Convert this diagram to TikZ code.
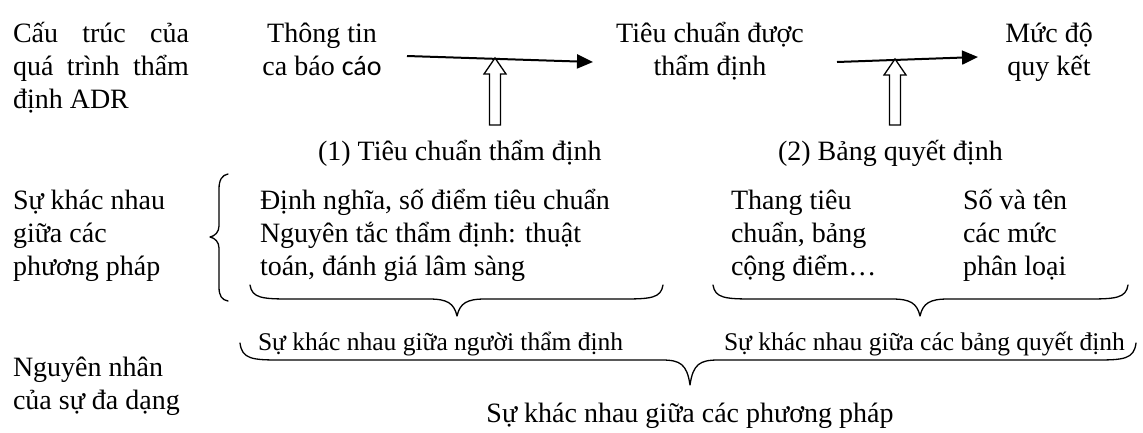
\documentclass[tikz,border=0pt]{standalone}
\usepackage{fontspec}
\setmainfont{Liberation Serif}
\newfontfamily\sansalt{Carlito}
\usetikzlibrary{arrows.meta}

\tikzset{
  txt/.style={font=\fontsize{28}{33}\selectfont, inner sep=0pt, outer sep=0pt},
  lt/.style={txt, anchor=base west},
  ct/.style={txt, anchor=base},
  smalltxt/.style={font=\fontsize{25.5}{30}\selectfont, inner sep=0pt, outer sep=0pt, anchor=base west},
  flow/.style={line width=2pt, -{Triangle[length=16pt,width=14pt]}},
  hollow/.style={draw, line width=1.3pt, fill=white, line join=miter},
  bracestyle/.style={line width=1.3pt, line cap=round, line join=round},
}

% horizontal brace opening upwards: left x, right x, tip x, end y, line y, tip y
\newcommand\downbrace[6]{%
  \draw[bracestyle] (#1,#4) .. controls (#1+2,#5-1) and (#1+12,#5) .. (#1+40,#5)
    -- (#3-28,#5) .. controls (#3-10,#5) and (#3-3,#5+4) .. (#3,#6)
    .. controls (#3+3,#5+4) and (#3+10,#5) .. (#3+28,#5)
    -- (#2-40,#5) .. controls (#2-12,#5) and (#2-2,#5-1) .. (#2,#4);}

% hollow upward arrow: centre x, tip y, bottom y
\newcommand\uparrowshape[3]{%
  \draw[hollow] (#1,#2) -- (#1+11,#2+16) -- (#1+5.5,#2+16) -- (#1+5.5,#3)
    -- (#1-5.5,#3) -- (#1-5.5,#2+16) -- (#1-11,#2+16) -- cycle;}

\begin{document}
\begin{tikzpicture}[x=1pt,y=-1pt]
\useasboundingbox (0,0) rectangle (1143,432);

% left column
\node[lt] (s1) at (13,42) {\makebox[176pt][s]{Cấu trúc của}};
\node[lt] (s2) at (13,75) {\makebox[176pt][s]{quá trình thẩm}};
\node[lt] (s3) at (13,108) {định ADR};
\node[lt] (d1) at (13,209) {Sự khác nhau};
\node[lt] (d2) at (13,242) {giữa các};
\node[lt] (d3) at (13,275) {phương pháp};
\node[lt] (n1) at (13,376) {Nguyên nhân};
\node[lt] (n2) at (13,409) {của sự đa dạng};

% process row
\node[ct] (info1) at (322,42) {Thông tin};
\node[ct] (info2) at (322,75) {ca báo {\sansalt cáo}};
\node[ct] (crit1) at (710,42) {Tiêu chuẩn được};
\node[ct] (crit2) at (710,75) {thẩm định};
\node[ct] (lvl1) at (1049,42) {Mức độ};
\node[ct] (lvl2) at (1049,75) {quy kết};

\coordinate (a1s) at (407,56);
\coordinate (a1e) at (593,62);
\coordinate (a2s) at (837,62);
\coordinate (a2e) at (978,57);
\draw[flow] (a1s) -- (a1e);
\draw[flow] (a2s) -- (a2e);
\uparrowshape{495}{58}{125}
\uparrowshape{895}{59}{125}

\node[lt] (in1) at (318,160) {(1) Tiêu chuẩn thẩm định};
\node[lt] (in2) at (778,160) {(2) Bảng quyết định};

% method differences
\node[lt] (m1) at (260,209) {Định nghĩa, số điểm tiêu chuẩn};
\node[lt] (m2) at (260,242) {Nguyên tắc thẩm định: thuật};
\node[lt] (m3) at (260,275) {toán, đánh giá lâm sàng};
\node[lt] (t1) at (731,209) {Thang tiêu};
\node[lt] (t2) at (731,242) {chuẩn, bảng};
\node[lt] (t3) at (731,275) {cộng điểm…};
\node[lt] (c1) at (963,209) {Số và tên};
\node[lt] (c2) at (963,242) {các mức};
\node[lt] (c3) at (963,275) {phân loại};

\draw[bracestyle] (228,174) .. controls (222,175) and (219,180) .. (219,189)
  -- (219,226) .. controls (219,232) and (215,236) .. (210,237)
  .. controls (215,238) and (219,242) .. (219,248)
  -- (219,287) .. controls (219,296) and (222,300) .. (228,301);

\downbrace{250}{663}{457}{285}{299}{316}
\downbrace{713}{1128}{920}{285}{299}{316}

\node[smalltxt] (r1) at (258,350) {Sự khác nhau giữa người thẩm định};
\node[smalltxt] (r2) at (724,350) {Sự khác nhau giữa các bảng quyết định};

\downbrace{240}{1136}{690}{343}{360}{385}

\node[ct] (all) at (690,422) {Sự khác nhau giữa các phương pháp};
\end{tikzpicture}
\end{document}
